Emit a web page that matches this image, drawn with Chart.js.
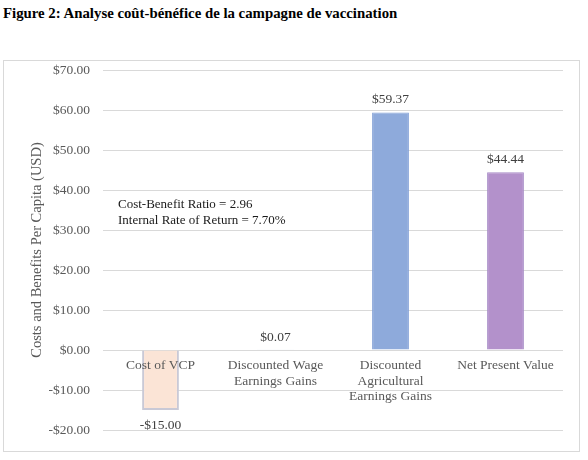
<!DOCTYPE html>
<html>
<head>
<meta charset="utf-8">
<script src="https://cdn.jsdelivr.net/npm/chart.js@4.4.0/dist/chart.umd.min.js"></script>
<style>
  body { margin: 0; background: #fff; width: 588px; height: 460px; position: relative; overflow: hidden; }
  #title { position: absolute; left: 3px; top: 5px; font: bold 14.8px "Liberation Serif", "Times New Roman", serif; color: #000; white-space: nowrap; }
  #frame { position: absolute; left: 3px; top: 60px; width: 577px; height: 392px; border: 1px solid #d9d9d9; box-sizing: border-box; }
  #myChart { display: block; }
</style>
</head>
<body>
<div id="title">Figure 2: Analyse coût-bénéfice de la campagne de vaccination</div>
<div id="frame"><canvas id="myChart" width="575" height="390"></canvas></div>
<script>
// donnees du graphique
const categories = [
    'Cost of VCP',
    ['Discounted Wage', 'Earnings Gains'],
    ['Discounted', 'Agricultural', 'Earnings Gains'],
    'Net Present Value'
];
const values = [-15.00, 0.07, 59.37, 44.44];
const yTicks = [-20, -10, 0, 10, 20, 30, 40, 50, 60, 70];
const noteLines = ['Cost-Benefit Ratio = 2.96', 'Internal Rate of Return = 7.70%'];

const fillColors = ['#fbe4d6', '#dae3f3', '#8eaadb', '#b391cb'];
const lineColors = ['#c9c9d6', '#c6d3ea', '#7f9ed6', '#a68bc7'];
const serif = '"Liberation Serif", "Times New Roman", serif';

function dollars(v){
    let s = '$' + Math.abs(v).toFixed(2);
    return v < 0 ? '-' + s : s;
}

// etiquettes au-dessus / au-dessous des barres
const valueLabels = {
    id: 'valueLabels',
    afterDatasetsDraw(chart){
        const c = chart.ctx;
        const meta = chart.getDatasetMeta(0);
        c.save();
        c.font = '13.5px ' + serif;
        c.fillStyle = '#404040';
        c.textAlign = 'center';
        meta.data.forEach(function(bar, i){
            let v = values[i];
            if (v >= 0) {
                c.textBaseline = 'bottom';
                c.fillText(dollars(v), bar.x, bar.y - 6);
            } else {
                c.textBaseline = 'top';
                c.fillText(dollars(v), bar.x, bar.y + 9);
            }
        });
        c.restore();
    }
};

// texte du ratio
const noteText = {
    id: 'noteText',
    afterDraw(chart){
        const c = chart.ctx;
        const area = chart.chartArea;
        c.save();
        c.font = '13px ' + serif;
        c.fillStyle = '#1a1a1a';
        c.textAlign = 'left';
        c.textBaseline = 'middle';
        noteLines.forEach(function(t, i){
            c.fillText(t, area.left + 15, area.top + 135 + i * 16);
        });
        c.restore();
    }
};

const ctx = document.getElementById('myChart');

const data = {
    labels: categories,
    datasets: [{
        data: values,
        backgroundColor: fillColors,
        borderColor: lineColors,
        borderWidth: [2, 1, 1, 1],
        barPercentage: 0.32,
        categoryPercentage: 1
    }]
};

const config = {
    type: 'bar',
    data,
    options: {
        responsive: false,
        animation: false,
        devicePixelRatio: 1,
        layout: { padding: { left: 0, top: 9, right: 16, bottom: 21 } },
        plugins: {
            legend: { display: false },
            tooltip: { enabled: false }
        },
        scales: {
            x: {
                position: { y: 0 },
                grid: { display: false, drawTicks: false },
                border: { display: false },
                ticks: {
                    z: 1,
                    color: '#595959',
                    font: { family: serif, size: 13.5, lineHeight: 1.15 },
                    padding: 8,
                    maxRotation: 0,
                    autoSkip: false
                }
            },
            y: {
                min: -20,
                max: 70,
                afterBuildTicks(scale){
                    scale.ticks = yTicks.map(function(v){ return { value: v }; });
                },
                afterFit(scale){ scale.width = 99; },
                grid: { color: '#d9d9d9', drawTicks: true, tickLength: 13, tickColor: 'rgba(0,0,0,0)', lineWidth: 1 },
                border: { display: false },
                ticks: {
                    color: '#595959',
                    font: { family: serif, size: 13.5 },
                    padding: 0,
                    callback: function(v){ return dollars(v); }
                },
                title: {
                    display: true,
                    text: 'Costs and Benefits Per Capita (USD)',
                    color: '#595959',
                    font: { family: serif, size: 14.5 },
                    padding: { top: 24, bottom: 0 }
                }
            }
        }
    },
    plugins: [valueLabels, noteText]
};

const Mychart = new Chart(ctx, config);
</script>
</body>
</html>
